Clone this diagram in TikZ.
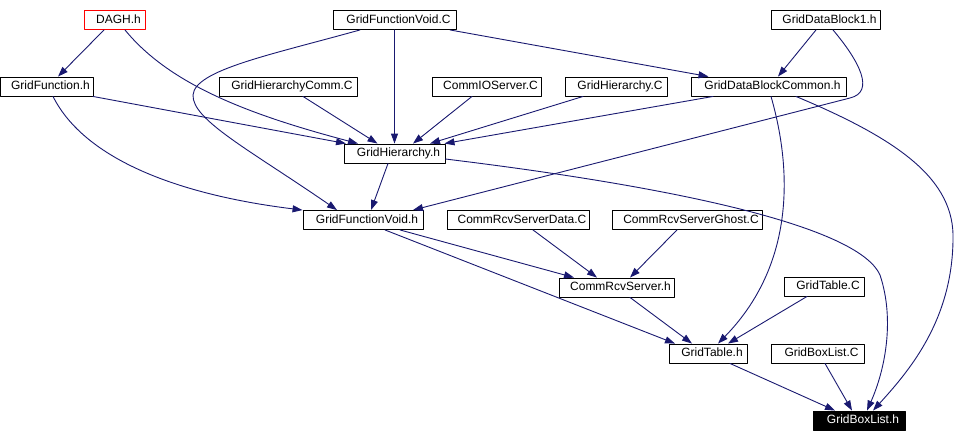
\documentclass[tikz,border=0pt]{standalone}
\usepackage{fontspec}
\setmainfont{Liberation Sans}
\usetikzlibrary{arrows.meta}
\definecolor{edgeblue}{RGB}{25,25,112}
\begin{document}
\begin{tikzpicture}[>={Triangle[length=10pt,width=7pt]}, line join=round, line cap=round, x=1pt, y=-1pt,
	file/.style={draw=black, line width=0.9pt, minimum width=#1, minimum height=19pt, inner xsep=0pt, inner ysep=2pt,
		text height=9pt, text depth=2.5pt, font=\fontsize{12}{14}\selectfont, execute at begin node={\hspace*{8pt}}},
	edge/.style={->, draw=edgeblue, line width=0.9pt}]
	\useasboundingbox (0,0) rectangle (968,442);
	% ==================== CÁC TỆP ====================
	\node[file=61, draw=red] (DAGH) at (114.5,20) {DAGH.h};
	\node[file=123] (GFVC) at (394.5,20) {GridFunctionVoid.C};
	\node[file=109] (GDB1) at (825.5,20) {GridDataBlock1.h};
	\node[file=93] (GFh) at (46.5,86.5) {GridFunction.h};
	\node[file=138] (GHCommC) at (288,86.5) {GridHierarchyComm.C};
	\node[file=109] (CIOC) at (486.5,86.5) {CommIOServer.C};
	\node[file=102] (GHC) at (616,86.5) {GridHierarchy.C};
	\node[file=155] (GDBCh) at (768.5,86.5) {GridDataBlockCommon.h};
	\node[file=101] (GHh) at (394.5,153.5) {GridHierarchy.h};
	\node[file=120] (GFVh) at (363,220) {GridFunctionVoid.h};
	\node[file=142] (CRSDC) at (518,220) {CommRcvServerData.C};
	\node[file=150] (CRSGC) at (687,220) {CommRcvServerGhost.C};
	\node[file=115] (CRSh) at (616.5,287.5) {CommRcvServer.h};
	\node[file=80] (GTC) at (824,286.5) {GridTable.C};
	\node[file=78] (GTh) at (708,353.5) {GridTable.h};
	\node[file=93] (GBLC) at (817.5,353.5) {GridBoxList.C};
	\node[file=92, fill=black, text=white] (GBLh) at (859,420.5) {GridBoxList.h};
	% ==================== MŨI TÊN THẲNG ====================
	\foreach \a/\sa/\b/\sb in {DAGH/-10.5/GFh/11.5, GFVC/0/GHh/0, GFVC/55.5/GDBCh/-60,
		GDB1/-9.5/GDBCh/9.5, GFh/46.5/GHh/-48.5, GHCommC/15/GHh/-17, CIOC/-14.5/GHh/18.5,
		GHC/-33/GHh/35.5, GDBCh/-55.5/GHh/50, GHh/-6.5/GFVh/8, GFVh/37/CRSh/-42.5,
		GFVh/22/GTh/-33, CRSDC/15/CRSh/-19.5, CRSGC/-10/CRSh/13.5, CRSh/13.5/GTh/-16,
		GTC/-17/GTh/20, GTh/22/GBLh/-24, GBLC/7.5/GBLh/-7}
	\draw[edge] ([xshift=\sa pt]\a.south) -- ([xshift=\sb pt]\b.north);
	% ==================== MŨI TÊN CONG ====================
	\draw[edge] ([xshift=10.5pt]DAGH.south) .. controls (170,85) and (250,115) .. ([xshift=-36.5pt]GHh.north);
	\draw[edge] ([xshift=-34.5pt]GFVC.south) .. controls (270,55) and (195,70) .. (193,95)
		.. controls (192,120) and (250,150) .. ([xshift=-26pt]GFVh.north);
	\draw[edge] ([xshift=6.5pt]GFh.south) .. controls (85,160) and (180,195) .. (GFVh.north west);
	\draw[edge] ([xshift=7.5pt]GDB1.south) .. controls (860,62) and (875,92) .. (850,98) -- ([xshift=50pt]GFVh.north);
	\draw[edge] ([xshift=2.5pt]GDBCh.south) .. controls (795,180) and (790,270) .. ([xshift=10pt]GTh.north);
	\draw[edge] ([xshift=27.5pt]GDBCh.south) .. controls (900,140) and (955,180) .. (953,240)
		.. controls (952,320) and (910,370) .. ([xshift=14pt]GBLh.north);
	\draw[edge] ([yshift=-5.5pt]GHh.east) .. controls (700,190) and (860,230) .. (880,275)
		.. controls (895,320) and (885,370) .. ([xshift=8pt]GBLh.north);
\end{tikzpicture}
\end{document}
